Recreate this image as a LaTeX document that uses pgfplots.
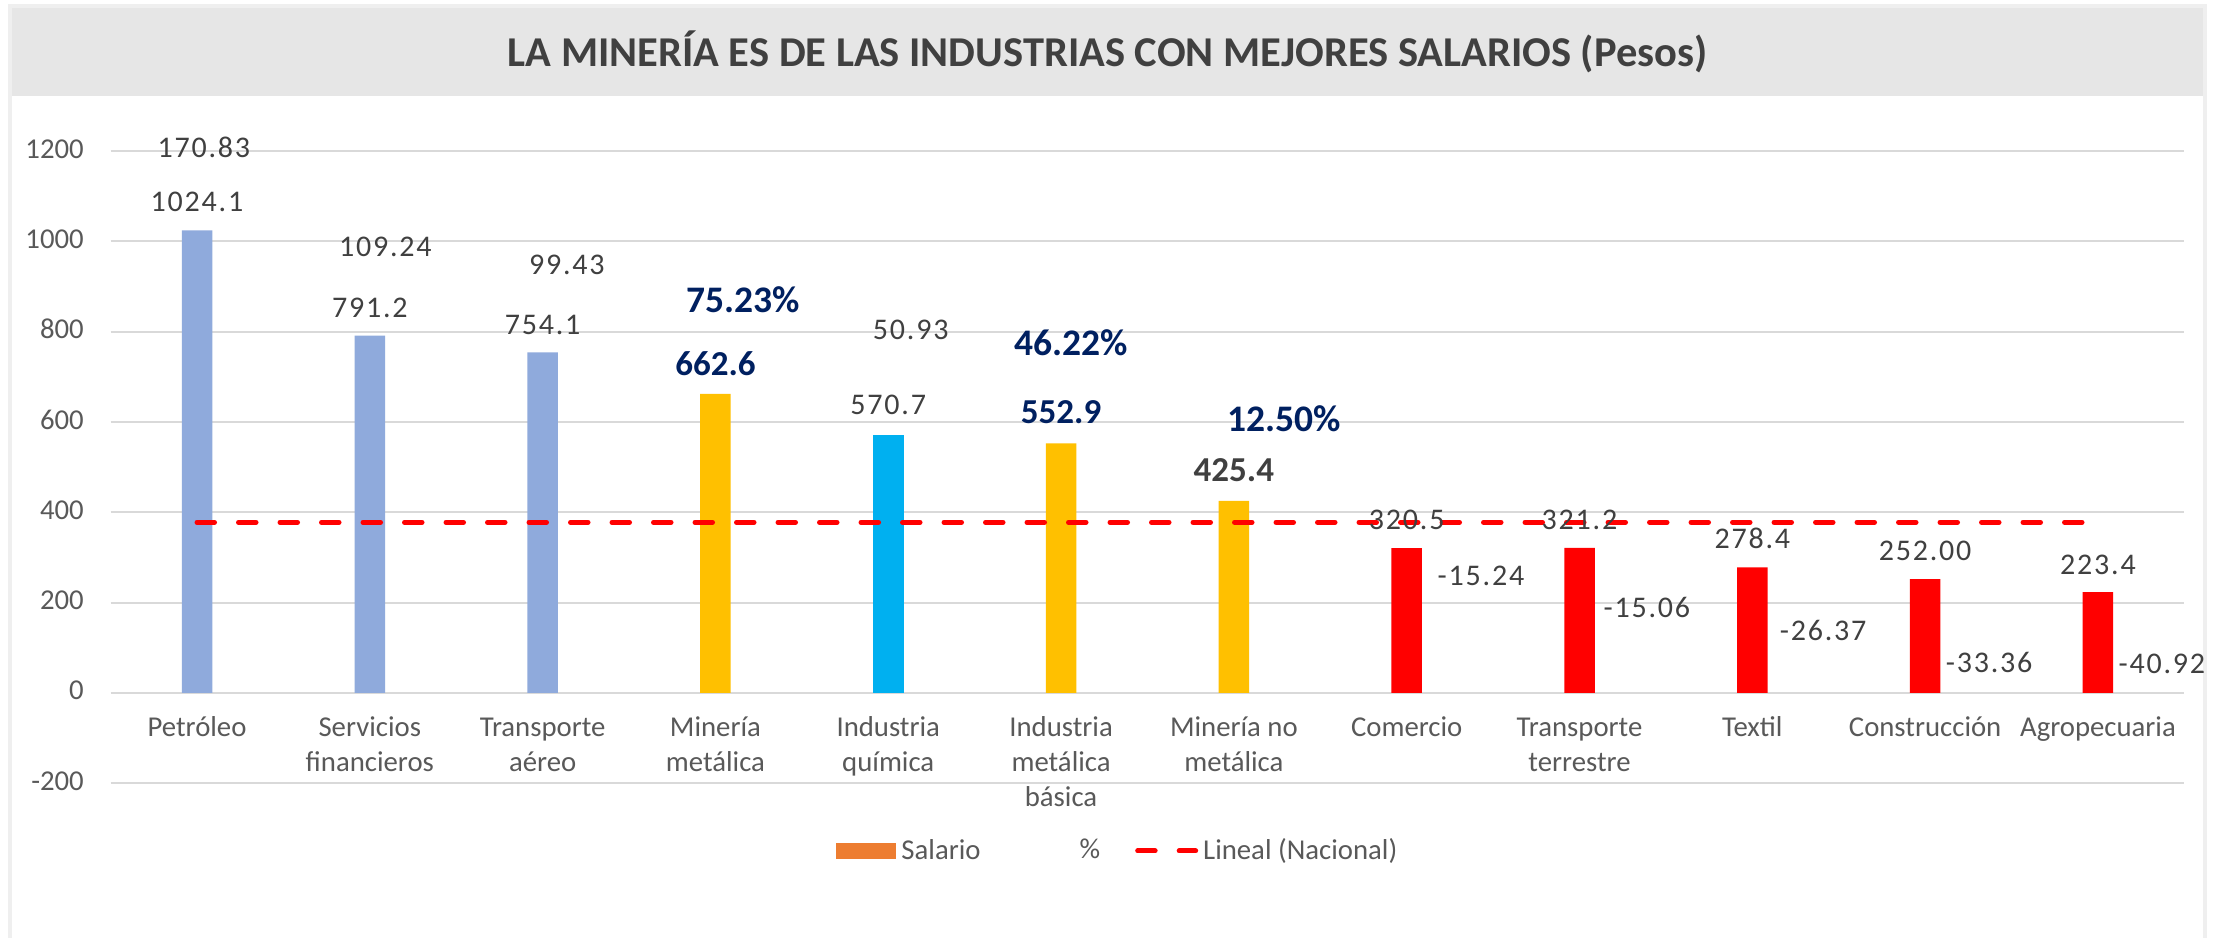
\documentclass[border=0pt]{standalone}
\usepackage{fontspec}
\setmainfont{Carlito}
\newfontfamily\lblfont[LetterSpace=6]{Carlito}
\usepackage{pgfplots}
\pgfplotsset{compat=1.18}

\definecolor{gridgray}{HTML}{D9D9D9}
\definecolor{txtgray}{HTML}{595959}
\definecolor{lblgray}{HTML}{404040}
\definecolor{navy}{HTML}{002060}
\definecolor{barblue}{HTML}{8FAADC}
\definecolor{bargold}{HTML}{FFC000}
\definecolor{barcyan}{HTML}{00B0F0}
\definecolor{barred}{HTML}{FF0000}
\definecolor{legorange}{HTML}{ED7D31}
\definecolor{titleband}{HTML}{E6E6E6}
\definecolor{framegray}{HTML}{EFEFEF}

% salario (bar values) and % change labels, x = category, y = where the label sits
\pgfplotstableread{
x y lab
0 1088 1024.1
1 852 791.2
2 815 754.1
4 638 570.7
7 383 320.5
8 383 321.2
9 342 278.4
10 315 252.00
11 283 223.4
0.04 1209 170.83
1.09 988 109.24
2.14 947 99.43
4.13 804 50.93
7.43 259 -15.24
8.39 189 -15.06
9.41 138 -26.37
10.37 67 -33.36
11.37 64 -40.92
}\normallabels

\begin{document}
\begin{tikzpicture}
% 1 px of the reference = 0.4pt
\fill[white] (0pt,0pt) rectangle (885.2pt,375.2pt);
\fill[titleband] (4.8pt,336.8pt) rectangle (881.2pt,372pt);
\draw[framegray, line width=1.6pt] (4pt,0pt) -- (4pt,372.8pt) -- (882pt,372.8pt) -- (882pt,0pt);
\node[font=\fontsize{17}{20}\selectfont\bfseries, text=lblgray] at (443pt,354.4pt)
  {LA MINERÍA ES DE LAS INDUSTRIAS CON MEJORES SALARIOS (Pesos)};

\begin{axis}[
    at={(44.24pt,61.88pt)}, anchor=south west,
    scale only axis, width=829.5pt, height=252.9pt,
    xmin=-0.5, xmax=11.5, ymin=-200, ymax=1200,
    xtick={0,...,11},
    xticklabels={Petróleo, Servicios\\financieros, Transporte\\aéreo,
      Minería\\metálica, Industria\\química, Industria\\metálica\\básica,
      Minería no\\metálica, Comercio, Transporte\\terrestre, Textil,
      Construcción, Agropecuaria},
    ytick={-200,0,200,400,600,800,1000,1200},
    yticklabels={-200,0,200,400,600,800,1000,1200},
    axis line style={draw=none},
    tick style={draw=none},
    major tick length=0pt,
    ymajorgrids,
    grid style={gridgray, line width=0.8pt},
    tick label style={font=\fontsize{11.5}{14}\selectfont, text=txtgray},
    yticklabel style={xshift=-7.2pt},
    xticklabel style={align=center, anchor=north, yshift=31.9pt},
    typeset ticklabels with strut,
    clip=false,
    legend style={at={(0.3498,-0.107)}, anchor=west, draw=none, fill=none,
      font=\fontsize{11.5}{14}\selectfont, text=txtgray,
      legend columns=3, inner sep=0pt,
      /tikz/every even column/.append style={column sep=12pt}},
    legend cell align=left,
]

\addplot[ybar, bar width=12.2pt, bar shift=0pt, fill=barblue, draw=none, forget plot]
  coordinates {(0,1024.1) (1,791.2) (2,754.1)};
\addplot[ybar, bar width=12.2pt, bar shift=0pt, fill=bargold, draw=none, forget plot]
  coordinates {(3,662.6) (5,552.9) (6,425.4)};
\addplot[ybar, bar width=12.2pt, bar shift=0pt, fill=barcyan, draw=none, forget plot]
  coordinates {(4,570.7)};
\addplot[ybar, bar width=12.2pt, bar shift=0pt, fill=barred, draw=none, forget plot]
  coordinates {(7,320.5) (8,321.2) (9,278.4) (10,252.00) (11,223.4)};

% national average
\addplot[barred, line width=2pt, line cap=round, dash pattern=on 7pt off 9.6pt, forget plot]
  coordinates {(0,378) (11,378)};

% labels
\addplot[draw=none, forget plot, nodes near coords, point meta=explicit symbolic,
  every node near coord/.append style={anchor=center, inner sep=0pt,
    font=\lblfont\fontsize{12}{14}\selectfont, text=lblgray}]
  table[x=x, y=y, meta=lab] {\normallabels};

\addplot[draw=none, forget plot, nodes near coords, point meta=explicit symbolic,
  every node near coord/.append style={anchor=center, inner sep=0pt,
    font=\bfseries\fontsize{14}{16}\selectfont, text=navy}]
  table[meta=lab] {
x y lab
3 729 662.6
5 622 552.9
};

\addplot[draw=none, forget plot, nodes near coords, point meta=explicit symbolic,
  every node near coord/.append style={anchor=center, inner sep=0pt,
    font=\bfseries\fontsize{14}{16}\selectfont, text=lblgray}]
  table[meta=lab] {
x y lab
6 494 425.4
};

\addplot[draw=none, forget plot, nodes near coords, point meta=explicit symbolic,
  every node near coord/.append style={anchor=center, inner sep=0pt,
    font=\bfseries\fontsize{15}{18}\selectfont, text=navy}]
  table[meta=lab] {
x y lab
3.16 870 75.23\%
5.06 775 46.22\%
6.29 607 12.50\%
};

\addlegendimage{legend image code/.code={\fill[legorange] (0pt,-3pt) rectangle (23.6pt,3pt);}}
\addlegendentry{Salario}
\addlegendimage{legend image code/.code={\path[draw=none, fill=none] (0pt,-3pt) rectangle (23.6pt,3pt);}}
\addlegendentry{\%}
\addlegendimage{legend image code/.code={\draw[barred, line width=2pt, line cap=round,
  dash pattern=on 7pt off 9.6pt] (1pt,0pt) -- (24.2pt,0pt);}}
\addlegendentry{Lineal (Nacional)}
\end{axis}
\end{tikzpicture}
\end{document}
